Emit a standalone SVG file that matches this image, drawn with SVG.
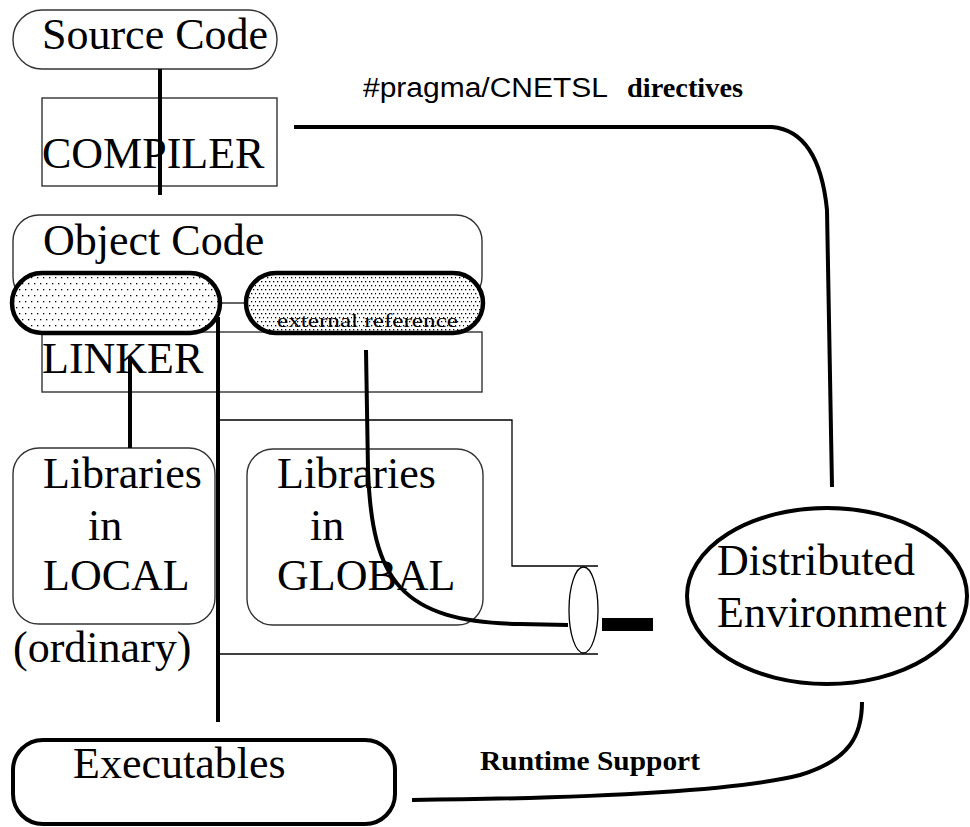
<svg xmlns="http://www.w3.org/2000/svg" width="970" height="827" viewBox="0 0 970 827">
  <style>
    .big { font-family: "Liberation Serif", "Times New Roman", serif; font-size: 44px; fill: #000; }
    .thin { fill: none; stroke: #000; stroke-width: 1.3; }
    .box { fill: #fff; stroke: #333; stroke-width: 1.4; }
    .thick { fill: none; stroke: #000; stroke-width: 4; }
    .pill { stroke: #000; stroke-width: 4.5; }
  </style>
  <defs>
    <pattern id="dotsSparse" x="0" y="0" width="12" height="12" patternUnits="userSpaceOnUse">
      <rect width="12" height="12" fill="#fff"/>
      <rect x="1" y="1" width="1.3" height="1.3" fill="#000"/>
      <rect x="7" y="1" width="1.3" height="1.3" fill="#000"/>
      <rect x="4" y="7" width="1.3" height="1.3" fill="#000"/>
      <rect x="10" y="7" width="1.3" height="1.3" fill="#000"/>
    </pattern>
    <pattern id="dotsDense" x="0" y="0" width="8" height="8" patternUnits="userSpaceOnUse">
      <rect width="8" height="8" fill="#fff"/>
      <rect x="1" y="1" width="1.3" height="1.3" fill="#000"/>
      <rect x="5" y="1" width="1.3" height="1.3" fill="#000"/>
      <rect x="3" y="5" width="1.3" height="1.3" fill="#000"/>
      <rect x="7" y="5" width="1.3" height="1.3" fill="#000"/>
    </pattern>
  </defs>

  <rect width="970" height="827" fill="#fff"/>

  <!-- Source code -->
  <g id="source-code">
    <rect class="box" x="13" y="10" width="264" height="59" rx="29"/>
    <text class="big" x="42" y="49">Source Code</text>
  </g>

  <!-- Compiler -->
  <g id="compiler">
    <rect class="box" x="42" y="98" width="235" height="88"/>
    <text class="big" x="42" y="168">COMPILER</text>
  </g>

  <!-- Linker -->
  <g id="linker">
    <rect class="box" x="42" y="332" width="440" height="60"/>
    <text class="big" x="42" y="373">LINKER</text>
  </g>

  <!-- Object code with its two linkage segments -->
  <g id="object-code">
    <rect class="box" x="13" y="215" width="469" height="88" rx="26"/>
    <text class="big" x="43" y="255">Object Code</text>
    <rect class="pill" x="12" y="273" width="208" height="60" rx="30" fill="url(#dotsSparse)"/>
    <rect class="pill" x="246" y="273" width="237" height="60" rx="30" fill="url(#dotsDense)"/>
    <text x="277" y="327" font-family="Liberation Serif, Times New Roman, serif" font-size="19" textLength="181" lengthAdjust="spacingAndGlyphs" fill="#000">external reference</text>
  </g>

  <!-- Local libraries -->
  <g id="libraries-local">
    <rect class="box" x="13" y="448" width="202" height="176" rx="26"/>
    <text class="big" x="43" y="488">Libraries</text>
    <text class="big" x="88" y="540">in</text>
    <text class="big" x="43" y="590">LOCAL</text>
    <text class="big" x="13" y="662">(ordinary)</text>
  </g>

  <!-- Global libraries -->
  <g id="libraries-global">
    <rect class="box" x="247" y="449" width="236" height="176" rx="26"/>
    <text class="big" x="277" y="488">Libraries</text>
    <text class="big" x="310" y="540">in</text>
    <text class="big" x="277" y="590">GLOBAL</text>
  </g>

  <!-- Distributed environment -->
  <g id="distributed-environment">
    <ellipse cx="827" cy="596" rx="140" ry="88" fill="#fff" stroke="#000" stroke-width="4"/>
    <text class="big" x="717" y="575">Distributed</text>
    <text class="big" x="717" y="627">Environment</text>
  </g>

  <!-- Executables -->
  <g id="executables">
    <rect x="13" y="740" width="382" height="84" rx="30" fill="#fff" stroke="#000" stroke-width="4"/>
    <text class="big" x="73" y="778">Executables</text>
  </g>

  <!-- Connectors -->
  <g id="connectors">
    <line class="thick" x1="160" y1="69" x2="160" y2="195"/>
    <line class="thick" x1="130" y1="357" x2="130" y2="448"/>
    <line class="thick" x1="218" y1="317" x2="218" y2="722"/>
    <!-- channel to the distributed environment -->
    <path class="thin" d="M220 420 H512 V566 H598"/>
    <path class="thin" d="M220 654 H598"/>
    <ellipse class="thin" cx="583.5" cy="610" rx="14.5" ry="43"/>
    <rect x="602" y="618" width="51" height="13" fill="#000"/>
    <path class="thick" d="M366 350 L368 470 C372 580 400 622 520 624 L568 625"/>
    <!-- directives -->
    <path class="thick" d="M294 127 L772 127 C805 130 822 160 827 210 L832 487"/>
    <!-- runtime support -->
    <path class="thick" d="M412 800 C600 798 740 790 800 775 C850 760 862 735 862 702"/>
  </g>

  <!-- Connector labels -->
  <g id="labels">
    <text x="363" y="97" font-family="Liberation Sans, Arial, sans-serif" font-size="27" textLength="245" lengthAdjust="spacingAndGlyphs" fill="#000">#pragma/CNETSL</text>
    <text x="627" y="97" font-family="Liberation Serif, Times New Roman, serif" font-size="27" font-weight="bold" textLength="116" lengthAdjust="spacingAndGlyphs" fill="#000">directives</text>
    <text x="480" y="770" font-family="Liberation Serif, Times New Roman, serif" font-size="27" font-weight="bold" textLength="220" lengthAdjust="spacingAndGlyphs" fill="#000">Runtime Support</text>
  </g>
</svg>
